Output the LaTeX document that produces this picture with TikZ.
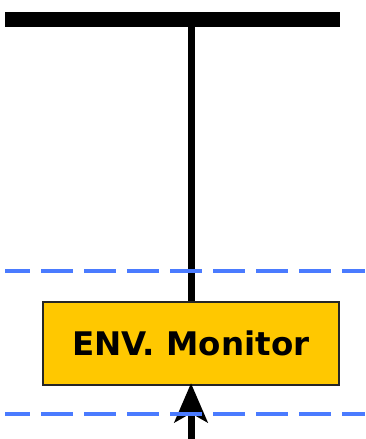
\documentclass[tikz,border=0pt]{standalone}
\usepackage{fontspec}
\setmainfont{DejaVu Sans}
\usetikzlibrary{arrows.meta}
\definecolor{gold}{HTML}{FFC800}
\definecolor{dashblue}{HTML}{4A7BFF}
\tikzset{
  busbar/.style={line width=15pt, line cap=butt},
  wire/.style={line width=7pt, line cap=butt},
  boundary/.style={dashblue, line width=4.5pt, dash pattern=on 32pt off 11pt, dash phase=7pt},
  monbox/.style={draw=black!85, line width=1.5pt, fill=gold, minimum width=296pt, minimum height=83pt, inner sep=0pt, font=\fontsize{32.5}{38}\selectfont\bfseries}
}
\begin{document}
\begin{tikzpicture}[x=1pt,y=-1pt]
\useasboundingbox (0,0) rectangle (365,439);
\coordinate (barL) at (5,19);
\coordinate (barR) at (340,19);
\coordinate (tap) at (191,19);
\coordinate (src) at (191,439);
\node[monbox] (mon) at (191,343.5) {ENV. Monitor};
\draw[busbar] (barL) -- (barR);
\draw[wire] (tap) -- (mon.north);
\draw[wire, -{Stealth[length=39pt,width=33pt,inset=9pt]}] (src) -- ([yshift=2.5pt]mon.south);
\coordinate (d1L) at (5,271);
\coordinate (d1R) at (365,271);
\coordinate (d2L) at (5,414);
\coordinate (d2R) at (365,414);
\draw[boundary] (d1L) -- (d1R);
\draw[boundary] (d2L) -- (d2R);
\end{tikzpicture}
\end{document}
